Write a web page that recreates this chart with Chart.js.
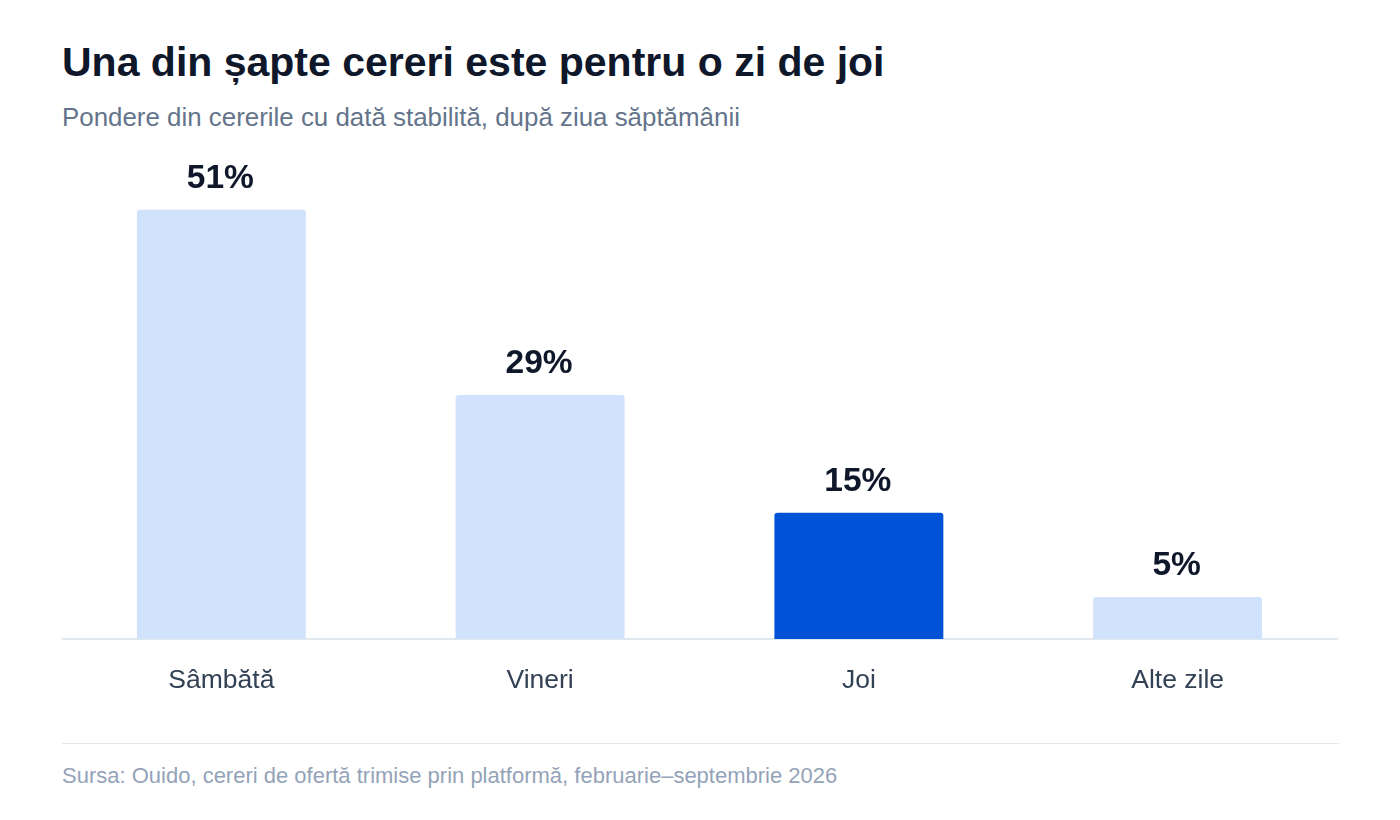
<!DOCTYPE html>
<html><head><meta charset="utf-8">
<script src="https://cdn.jsdelivr.net/npm/chart.js@4"></script>
<style>
body{margin:0;width:1400px;height:820px;background:#fff;font-family:"Liberation Sans",Arial,sans-serif;position:relative;overflow:hidden}
div.tx{position:absolute;left:62px;white-space:nowrap}
#t{top:37px;font-size:41px;line-height:50px;font-weight:bold;color:#0f172a}
#s{top:101px;font-size:25.9px;line-height:32px;color:#64748b}
#c{position:absolute;left:62px;top:134px;width:1277px;height:580px}
#hr{position:absolute;left:62px;top:743px;width:1277px;height:1px;background:#e2e8f0}
#f{top:763px;font-size:22px;line-height:26px;color:#94a3b8}
</style></head><body>
<div class="tx" id="t">Una din șapte cereri este pentru o zi de joi</div>
<div class="tx" id="s">Pondere din cererile cu dată stabilită, după ziua săptămânii</div>
<div id="c"><canvas id="cv"></canvas></div>
<div id="hr"></div>
<div class="tx" id="f">Sursa: Ouido, cereri de ofertă trimise prin platformă, februarie–septembrie 2026</div>
<script>
const categories=["Sâmbătă","Vineri","Joi","Alte zile"];
const values=[51,29,15,5];
const colors=["#d1e2fc","#d1e2fc","#0052d6","#d1e2fc"];
const labelsPlugin={id:'lbl',afterDatasetsDraw(ch){const ctx=ch.ctx;const m=ch.getDatasetMeta(0);ctx.save();ctx.font='bold 33.5px "Liberation Sans",Arial';ctx.fillStyle='#0f172a';ctx.textAlign='center';ctx.textBaseline='middle';m.data.forEach((b,i)=>ctx.fillText(values[i]+'%',b.x-1,b.y-31));ctx.restore();}};
new Chart(document.getElementById('cv'),{type:'bar',data:{labels:categories,datasets:[{data:values,backgroundColor:colors,borderRadius:3,borderSkipped:'bottom',categoryPercentage:1,barPercentage:0.53}]},
options:{responsive:true,maintainAspectRatio:false,animation:false,layout:{padding:{left:0,right:2}},plugins:{legend:{display:false},tooltip:{enabled:false}},
scales:{y:{display:false,min:0,max:60},x:{grid:{display:false},border:{color:'#e2e8f0',width:2},ticks:{color:'#334155',font:{size:26.5,family:'"Liberation Sans",Arial'},padding:18},afterFit(s){s.height=75;}}}},plugins:[labelsPlugin]});
</script></body></html>
